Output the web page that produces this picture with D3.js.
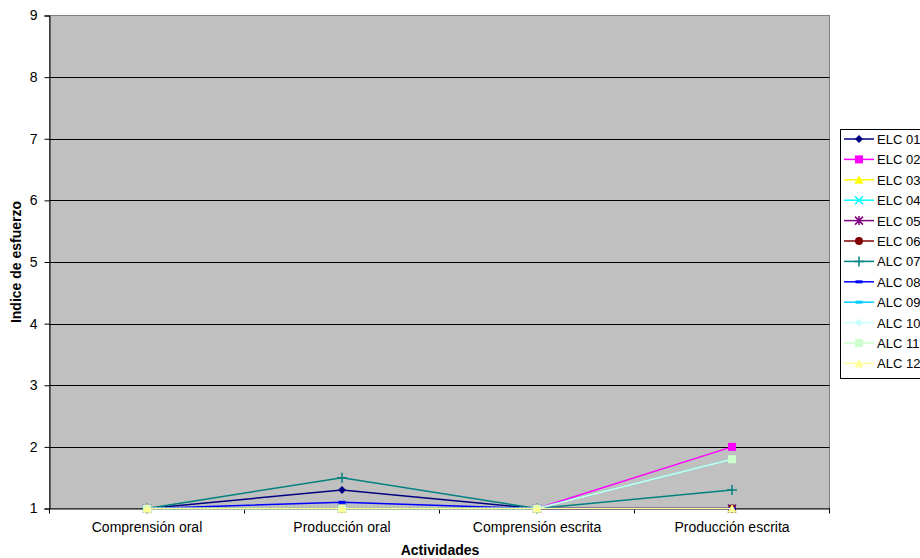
<!DOCTYPE html>
<html><head><meta charset="utf-8">
<script src="https://cdn.jsdelivr.net/npm/d3@7"></script>
<style>body{margin:0;background:#fff;}svg{display:block;font-family:"Liberation Sans",Arial,sans-serif;}</style>
</head><body><svg id="c" width="920" height="558"></svg>
<script>
const categories = ["Comprensión oral","Producción oral","Comprensión escrita","Producción escrita"];
const seriesNames = ["ELC 01","ELC 02","ELC 03","ELC 04","ELC 05","ELC 06","ALC 07","ALC 08","ALC 09","ALC 10","ALC 11","ALC 12"];
const elc01 = [1,1.3,1,1];
const elc02 = [1,1,1,2];
const elc03 = [1,1,1,1];
const elc04 = [1,1,1,1];
const elc05 = [1,1,1,1];
const elc06 = [1,1,1,1];
const alc07 = [1,1.5,1,1.3];
const alc08 = [1,1.1,1,1];
const alc09 = [1,1,1,1.8];
const alc10 = [1,1,1,1.8];
const alc11 = [1,1,1,1.8];
const alc12 = [1,1,1,1];
const yTicks = [1,2,3,4,5,6,7,8,9];
const colors = ["#000080","#FF00FF","#FFFF00","#00FFFF","#800080","#800000","#008080","#0000FF","#00CCFF","#CCFFFF","#CCFFCC","#FFFF99"];
const markers = ["diamond","square","triangle","x","star","circle","plus","dash","dash","diamond","square","triangle"];
const values = [elc01,elc02,elc03,elc04,elc05,elc06,alc07,alc08,alc09,alc10,alc11,alc12];

const svg = d3.select("#c");
const L=49.5, R=829.5, T=15.5, B=508.5;
const x = d3.scaleBand().domain(categories).range([L,R]);
const y = d3.scaleLinear().domain([1,9]).range([B,T]);

svg.append("rect").attr("x",L).attr("y",T).attr("width",R-L).attr("height",B-T).attr("fill","#C0C0C0").attr("stroke","#808080");
svg.append("g").selectAll("line").data(yTicks.filter(d=>d>1&&d<9)).join("line")
  .attr("x1",L).attr("x2",R).attr("y1",d=>Math.round(y(d))+0.5).attr("y2",d=>Math.round(y(d))+0.5).attr("stroke","#000");

const yAxis = svg.append("g").attr("transform",`translate(${L},0)`)
  .call(d3.axisLeft(y).tickValues(yTicks).tickSize(5).tickPadding(7).tickFormat(d3.format("d")));
yAxis.select(".domain").attr("stroke","#000");
yAxis.selectAll("text").attr("font-size",14).attr("fill","#000").attr("font-family","Liberation Sans, Arial");

const xAxis = svg.append("g").attr("transform",`translate(0,${B})`)
  .call(d3.axisBottom(x).tickSize(0).tickPadding(14));
xAxis.select(".domain").attr("stroke","#000");
xAxis.selectAll("text").attr("font-size",14).attr("fill","#000").attr("font-family","Liberation Sans, Arial");
const bounds = categories.map(c=>x(c)).concat([R]);
svg.append("g").selectAll("line").data(bounds).join("line")
  .attr("x1",d=>d).attr("x2",d=>d).attr("y1",B).attr("y2",B+5).attr("stroke","#000");

svg.append("text").attr("x",440).attr("y",555).attr("text-anchor","middle").attr("font-size",14).attr("font-weight","bold").text("Actividades");
svg.append("text").attr("transform","translate(21,262) rotate(-90)").attr("text-anchor","middle").attr("font-size",14).attr("font-weight","bold").text("Indice de esfuerzo");

function marker(g, type, color){
  if(type==="diamond") g.append("path").attr("d","M0,-4L4,0L0,4L-4,0Z").attr("fill",color);
  else if(type==="square") g.append("rect").attr("x",-4).attr("y",-4).attr("width",8).attr("height",8).attr("fill",color);
  else if(type==="triangle") g.append("path").attr("d","M0,-4.5L4.5,4L-4.5,4Z").attr("fill",color);
  else if(type==="circle") g.append("circle").attr("r",4).attr("fill",color);
  else if(type==="x") g.append("path").attr("d","M-4,-4L4,4M-4,4L4,-4").attr("stroke",color).attr("stroke-width",1.5);
  else if(type==="star") g.append("path").attr("d","M-4,-4L4,4M-4,4L4,-4M0,-4.5L0,4.5").attr("stroke",color).attr("stroke-width",1.5);
  else if(type==="plus") g.append("path").attr("d","M-5,0L5,0M0,-5L0,5").attr("stroke",color).attr("stroke-width",1.5);
  else if(type==="dash") g.append("path").attr("d","M-3.5,0L3.5,0").attr("stroke",color).attr("stroke-width",3);
}

const line = d3.line().x((d,i)=>x(categories[i])+x.bandwidth()/2).y(d=>y(d));
values.forEach((vals,si)=>{
  const g = svg.append("g");
  const p = g.append("path").attr("d",line(vals)).attr("fill","none").attr("stroke",colors[si]).attr("stroke-width",1.5);
  if(seriesNames[si]==="ALC 11") p.attr("stroke-dasharray","2,2");
  vals.forEach((v,i)=>{
    const mg = g.append("g").attr("transform",`translate(${x(categories[i])+x.bandwidth()/2},${y(v)})`);
    marker(mg, markers[si], colors[si]);
  });
});

const lg = svg.append("g");
lg.append("rect").attr("x",840.5).attr("y",129.5).attr("width",90).attr("height",249).attr("fill","#fff").attr("stroke","#000");
seriesNames.forEach((n,i)=>{
  const yy = 139 + i*20.4;
  lg.append("line").attr("x1",844).attr("x2",874).attr("y1",yy).attr("y2",yy).attr("stroke",colors[i]).attr("stroke-width",1.5);
  marker(lg.append("g").attr("transform",`translate(859,${yy})`), markers[i], colors[i]);
  lg.append("text").attr("x",877).attr("y",yy+5).attr("font-size",13).attr("fill","#000").text(n);
});
</script></body></html>
